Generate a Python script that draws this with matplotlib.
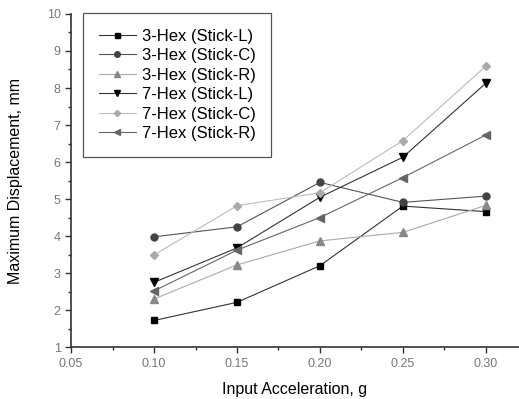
import matplotlib.pyplot as plt
from matplotlib.ticker import MultipleLocator

plt.rcParams['font.family'] = ['Liberation Sans', 'DejaVu Sans']

accel = [0.10, 0.15, 0.20, 0.25, 0.30]

hex3_L = [1.72, 2.21, 3.20, 4.81, 4.66]
hex3_C = [3.98, 4.25, 5.45, 4.91, 5.08]
hex3_R = [2.30, 3.22, 3.87, 4.10, 4.83]
hex7_L = [2.75, 3.68, 5.05, 6.13, 8.13]
hex7_C = [3.49, 4.82, 5.17, 6.58, 8.59]
hex7_R = [2.52, 3.62, 4.50, 5.58, 6.73]

labels = ['3-Hex (Stick-L)', '3-Hex (Stick-C)', '3-Hex (Stick-R)',
          '7-Hex (Stick-L)', '7-Hex (Stick-C)', '7-Hex (Stick-R)']

fig = plt.figure(figsize=(5.19, 3.99), dpi=100)
ax = fig.add_axes([0.137, 0.130, 0.863, 0.835])

series = [hex3_L, hex3_C, hex3_R, hex7_L, hex7_C, hex7_R]
markers = ['s', 'o', '^', 'v', 'D', '<']
line_colors = ['#333333', '#555555', '#aaaaaa', '#333333', '#bbbbbb', '#666666']
mark_colors = ['#000000', '#444444', '#888888', '#000000', '#aaaaaa', '#666666']
msizes = [4.5, 5, 5.5, 5.5, 4, 5.5]

for ys, lab, m, lc, mc, ms in zip(series, labels, markers, line_colors, mark_colors, msizes):
    ax.plot(accel, ys, color=lc, lw=0.8, marker=m, markersize=ms,
            markerfacecolor=mc, markeredgecolor=mc, label=lab)

ax.set_xlim(0.05, 0.32)
ax.set_ylim(1, 10)
ax.xaxis.set_minor_locator(MultipleLocator(0.025))
ax.yaxis.set_major_locator(MultipleLocator(1))
ax.yaxis.set_minor_locator(MultipleLocator(0.5))
ax.set_xticks([0.05, 0.10, 0.15, 0.20, 0.25, 0.30])
ax.set_xticklabels(['0.05', '0.10', '0.15', '0.20', '0.25', '0.30'])

for s in ['top', 'right']:
    ax.spines[s].set_visible(False)
for s in ['left', 'bottom']:
    ax.spines[s].set_linewidth(1.2)
    ax.spines[s].set_color('#333333')

ax.tick_params(which='major', direction='out', length=4, width=1, color='#333333',
               labelsize=9, labelcolor='#777777')
ax.tick_params(which='minor', direction='out', length=2.5, width=1, color='#333333')

ax.set_xlabel('Input Acceleration, g', fontsize=11.5, labelpad=9)
ax.set_ylabel('Maximum Displacement, mm', fontsize=11.5, labelpad=17)

leg = ax.legend(loc='upper left', bbox_to_anchor=(0.027, 1.003), borderaxespad=0,
                fontsize=12, fancybox=False, edgecolor='#555555', framealpha=1,
                handlelength=2.2, borderpad=0.95, labelspacing=0.27, handletextpad=0.35,
                markerscale=0.8)
leg.get_frame().set_linewidth(0.9)

fig.savefig('out.png', dpi=100)
